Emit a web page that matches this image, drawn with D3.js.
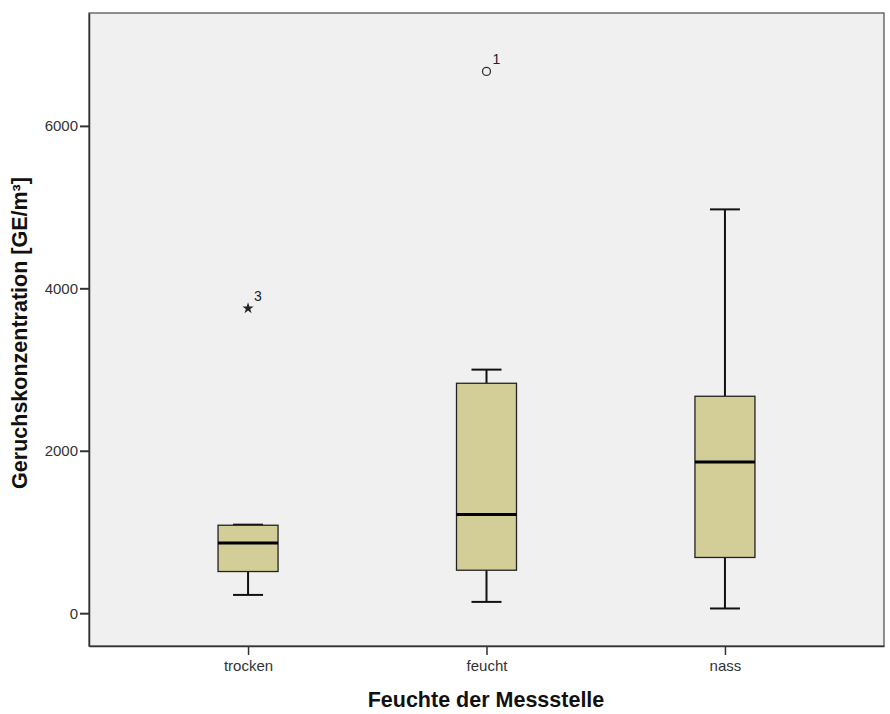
<!DOCTYPE html>
<html><head><meta charset="utf-8">
<script src="https://cdn.jsdelivr.net/npm/d3@7"></script>
<style>body{margin:0;background:#fff}svg{display:block}</style>
</head><body>
<script>
const categories = ["trocken", "feucht", "nass"];
const lowerWhisker = [225, 139, 58];
const q1 = [513, 529, 686];
const median = [865, 1215, 1862];
const q3 = [1083, 2831, 2671];
const upperWhisker = [1090, 2999, 4972];
const outlierCategory = ["trocken", "feucht"];
const outlierValue = [3754, 6671];
const outlierLabel = ["3", "1"];
const outlierType = ["extreme", "mild"];
const yTicks = [0, 2000, 4000, 6000];

(function () {
const W = 890, H = 714;
const mLeft = 89, mRight = 884, mTop = 13, mBottom = 646;
const font = "Liberation Sans, Arial, sans-serif";
const svg = d3.select("body").append("svg").attr("width", W).attr("height", H);

const x = d3.scalePoint().domain(categories).range([mLeft, mRight]).padding(0.667);
const y = d3.scaleLinear().domain([-404, 7390]).range([mBottom, mTop]);

svg.append("rect").attr("x", mLeft).attr("y", mTop).attr("width", mRight - mLeft).attr("height", mBottom - mTop)
  .attr("fill", "#f0f0f0").attr("stroke", "#555").attr("stroke-width", 1.3);

const yAxis = d3.axisLeft(y).tickValues(yTicks).tickSize(9).tickSizeOuter(0).tickFormat(d3.format("d"));
const gy = svg.append("g").attr("transform", `translate(${mLeft},0)`).call(yAxis);
gy.select(".domain").attr("stroke", "#333").attr("stroke-width", 1.5);
gy.selectAll(".tick line").attr("stroke", "#333").attr("stroke-width", 2);
gy.selectAll(".tick text").attr("font-family", font).attr("font-size", 15).attr("fill", "#333").attr("x", -11);

const xAxis = d3.axisBottom(x).tickSize(9).tickSizeOuter(0);
const gx = svg.append("g").attr("transform", `translate(0,${mBottom})`).call(xAxis);
gx.select(".domain").attr("stroke", "#333").attr("stroke-width", 1.5);
gx.selectAll(".tick line").attr("stroke", "#333").attr("stroke-width", 1.5);
gx.selectAll(".tick text").attr("font-family", font).attr("font-size", 15).attr("fill", "#333").attr("y", 14);

const boxW = 60, capW = 30;
const g = svg.append("g");
categories.forEach((c, i) => {
  const cx = x(c);
  g.append("line").attr("x1", cx).attr("x2", cx).attr("y1", y(upperWhisker[i])).attr("y2", y(q3[i])).attr("stroke", "#111").attr("stroke-width", 2);
  g.append("line").attr("x1", cx).attr("x2", cx).attr("y1", y(lowerWhisker[i])).attr("y2", y(q1[i])).attr("stroke", "#111").attr("stroke-width", 2);
  g.append("line").attr("x1", cx - capW/2).attr("x2", cx + capW/2).attr("y1", y(upperWhisker[i])).attr("y2", y(upperWhisker[i])).attr("stroke", "#111").attr("stroke-width", 2);
  g.append("line").attr("x1", cx - capW/2).attr("x2", cx + capW/2).attr("y1", y(lowerWhisker[i])).attr("y2", y(lowerWhisker[i])).attr("stroke", "#111").attr("stroke-width", 2);
  g.append("rect").attr("x", cx - boxW/2).attr("y", y(q3[i])).attr("width", boxW).attr("height", y(q1[i]) - y(q3[i]))
    .attr("fill", "#d3ce97").attr("stroke", "#222").attr("stroke-width", 1.3);
  g.append("line").attr("x1", cx - boxW/2).attr("x2", cx + boxW/2).attr("y1", y(median[i])).attr("y2", y(median[i])).attr("stroke", "#000").attr("stroke-width", 3);
});

outlierCategory.forEach((c, i) => {
  const cx = x(c), cy = y(outlierValue[i]);
  if (outlierType[i] === "mild") {
    g.append("circle").attr("cx", cx).attr("cy", cy).attr("r", 4).attr("fill", "none").attr("stroke", "#333").attr("stroke-width", 1.3);
  } else {
    g.append("path").attr("d", d3.symbol(d3.symbolStar, 40)()).attr("transform", `translate(${cx},${cy})`).attr("fill", "#222");
  }
  g.append("text").attr("x", cx + 6).attr("y", cy - 7).text(outlierLabel[i])
    .attr("font-family", font).attr("font-size", 14).attr("fill", "#222");
});

svg.append("text").attr("x", 486).attr("y", 706.5).attr("text-anchor", "middle")
  .attr("font-family", font).attr("font-weight", "bold").attr("font-size", 21.5).attr("fill", "#111")
  .text("Feuchte der Messstelle");
svg.append("text").attr("transform", `translate(27,333) rotate(-90)`).attr("text-anchor", "middle")
  .attr("font-family", font).attr("font-weight", "bold").attr("font-size", 21.5).attr("fill", "#111")
  .text("Geruchskonzentration [GE/m³]");
})();
</script>
</body></html>
